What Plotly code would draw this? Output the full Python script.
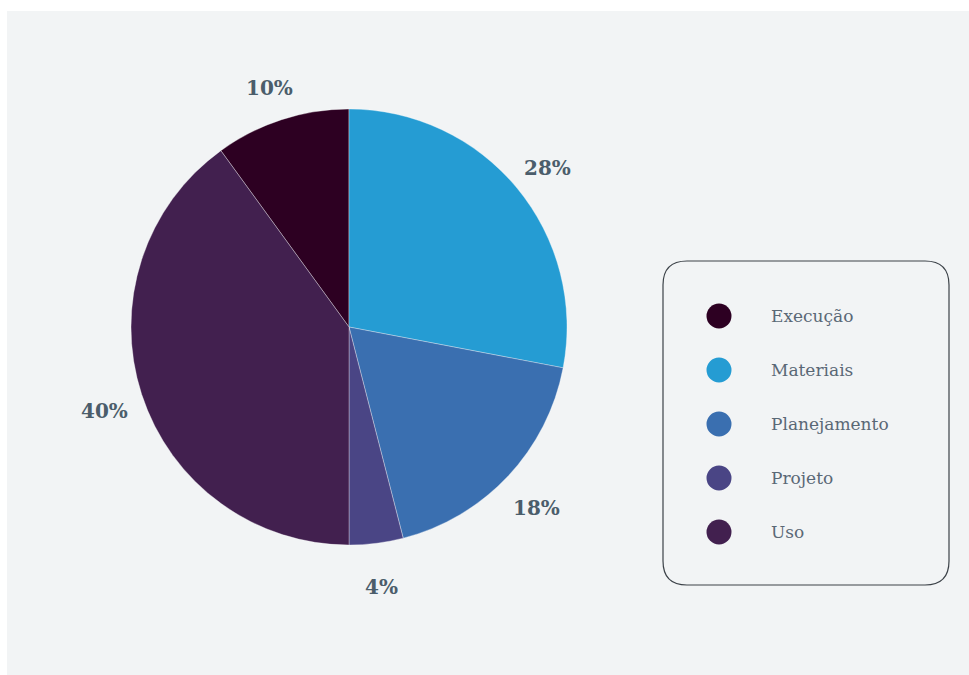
import math
import plotly.graph_objects as go

labels = ["Execução", "Materiais", "Planejamento", "Projeto", "Uso"]
values = [10, 28, 18, 4, 40]
colors = ["#2d0022", "#259cd3", "#3a6fb0", "#4a4585", "#42204f"]

W, H = 969, 675
def px(x):
    return x / W
def py(y):
    return 1 - y / H

cx, cy, r = 349, 327, 218
rotation = -36
label_r = 257
label_dy = 5

fig = go.Figure()
fig.add_trace(go.Pie(
    labels=labels, values=values, sort=False, direction="clockwise",
    rotation=rotation,
    marker=dict(colors=colors, line=dict(color="rgba(255,255,255,0.55)", width=0.6)),
    textinfo="none",
    domain=dict(x=[px(cx - r), px(cx + r)], y=[py(cy + r), py(cy - r)]),
    showlegend=False, hoverinfo="label+percent",
))

shapes = []
# white border strips
shapes.append(dict(type="rect", xref="paper", yref="paper", x0=0, x1=1, y0=py(11), y1=1,
                   fillcolor="white", line=dict(width=0), layer="below"))
shapes.append(dict(type="rect", xref="paper", yref="paper", x0=0, x1=px(7), y0=0, y1=1,
                   fillcolor="white", line=dict(width=0), layer="below"))

annotations = []
# percentage labels placed on each slice's mid-angle, derived from the values
total = sum(values)
cum = 0
for v in values:
    mid = rotation + (cum + v / 2) / total * 360
    cum += v
    a = math.radians(mid)
    lx = cx + label_r * math.sin(a)
    ly = cy - label_r * math.cos(a) + label_dy
    annotations.append(dict(xref="paper", yref="paper", x=px(lx), y=py(ly),
                            xanchor="center", yanchor="middle", showarrow=False,
                            text=f"{round(v / total * 100)}%",
                            font=dict(family="DejaVu Serif", size=20, color="#4b5d6b",
                                      weight="bold")))

# rounded legend box
L, R, T, B, rad = 663, 949, 261, 585, 24
path = (f"M {px(L+rad)},{py(T)} L {px(R-rad)},{py(T)} Q {px(R)},{py(T)} {px(R)},{py(T+rad)} "
        f"L {px(R)},{py(B-rad)} Q {px(R)},{py(B)} {px(R-rad)},{py(B)} "
        f"L {px(L+rad)},{py(B)} Q {px(L)},{py(B)} {px(L)},{py(B-rad)} "
        f"L {px(L)},{py(T+rad)} Q {px(L)},{py(T)} {px(L+rad)},{py(T)} Z")
shapes.append(dict(type="path", xref="paper", yref="paper", path=path,
                   line=dict(color="#3c4248", width=1.2), fillcolor="rgba(0,0,0,0)"))

row0, step, dot_x, dot_r, text_x = 316, 54, 719, 12.5, 769
for i, (lab, col) in enumerate(zip(labels, colors)):
    yc = row0 + i * step
    shapes.append(dict(type="circle", xref="paper", yref="paper",
                       x0=px(dot_x - dot_r), x1=px(dot_x + dot_r),
                       y0=py(yc + dot_r), y1=py(yc - dot_r),
                       fillcolor=col, line=dict(width=0)))
    annotations.append(dict(xref="paper", yref="paper", x=px(text_x), y=py(yc),
                            xanchor="left", yanchor="middle", showarrow=False, text=lab,
                            font=dict(family="DejaVu Serif", size=17, color="#5a6875")))

fig.update_layout(
    width=W, height=H, margin=dict(l=0, r=0, t=0, b=0),
    paper_bgcolor="#f2f4f5",
    shapes=shapes, annotations=annotations,
)
fig.write_html("out.html")
